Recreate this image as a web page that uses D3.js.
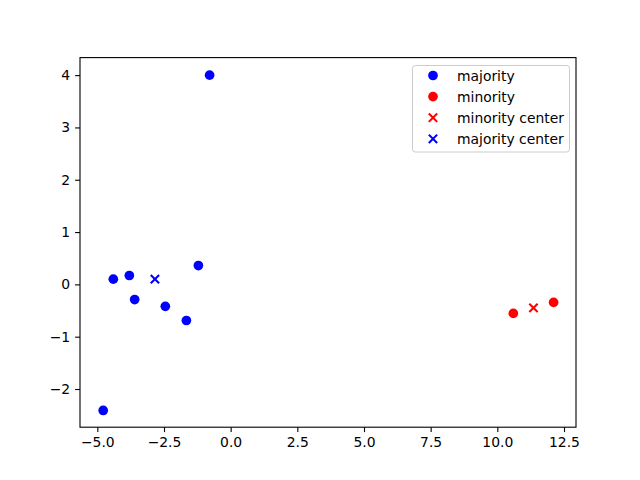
<!DOCTYPE html>
<html>
<head>
  <meta charset="utf-8">
  <style>
    body { margin: 0; background: #fff; }
    svg text { font-family: "DejaVu Sans", sans-serif; }
  </style>
</head>
<body>
  <div id="chart"></div>

  <script src="https://d3js.org/d3.v7.min.js"></script>
  <script>
    // Data
    const majorityX = [-0.79, -4.40, -3.80, -3.60, -2.45, -1.21, -1.66, -4.78];
    const majorityY = [4.00, 0.10, 0.17, -0.29, -0.42, 0.36, -0.69, -2.41];
    const minorityX = [10.60, 12.11];
    const minorityY = [-0.555, -0.344];
    const minorityCenter = [11.355, -0.45];
    const majorityCenter = [-2.84, 0.10];
    const xTicks = [-5.0, -2.5, 0.0, 2.5, 5.0, 7.5, 10.0, 12.5];
    const yTicks = [-2, -1, 0, 1, 2, 3, 4];
    const legendLabels = ["majority", "minority", "minority center", "majority center"];

    const width = 640, height = 480;
    const margin = { left: 80, right: 64, top: 57.6, bottom: 52.8 };

    const svg = d3.select("#chart")
      .append("svg")
      .attr("width", width)
      .attr("height", height);

    const x = d3.scaleLinear()
      .domain([-5.65, 12.95])
      .range([margin.left, width - margin.right]);

    const y = d3.scaleLinear()
      .domain([-2.73, 4.335])
      .range([height - margin.bottom, margin.top]);

    const r = 4.85;
    const h = 4.17;

    const majority = majorityX.map((v, i) => [v, majorityY[i]]);
    const minority = minorityX.map((v, i) => [v, minorityY[i]]);

    // points
    svg.selectAll("circle.maj")
      .data(majority)
      .enter()
      .append("circle")
      .attr("class", "maj")
      .attr("cx", d => x(d[0]))
      .attr("cy", d => y(d[1]))
      .attr("r", r)
      .attr("fill", "blue");

    svg.selectAll("circle.min")
      .data(minority)
      .enter()
      .append("circle")
      .attr("class", "min")
      .attr("cx", d => x(d[0]))
      .attr("cy", d => y(d[1]))
      .attr("r", r)
      .attr("fill", "red");

    function cross(g, cx, cy, color) {
      g.append("path")
        .attr("d", `M${cx - h},${cy - h}L${cx + h},${cy + h}M${cx - h},${cy + h}L${cx + h},${cy - h}`)
        .attr("stroke", color)
        .attr("stroke-width", 2.08)
        .attr("fill", "none");
    }

    cross(svg, x(minorityCenter[0]), y(minorityCenter[1]), "red");
    cross(svg, x(majorityCenter[0]), y(majorityCenter[1]), "blue");

    // axes
    const xAxis = svg.append("g")
      .attr("transform", `translate(0,${height - margin.bottom})`)
      .call(d3.axisBottom(x).tickValues(xTicks).tickFormat(d3.format(".1f")).tickSize(4.9).tickPadding(4.9));

    const yAxis = svg.append("g")
      .attr("transform", `translate(${margin.left},0)`)
      .call(d3.axisLeft(y).tickValues(yTicks).tickFormat(d3.format("d")).tickSize(4.9).tickPadding(4.9));

    [xAxis, yAxis].forEach(a => {
      a.select(".domain").remove();
      a.selectAll("line").attr("stroke", "#000").attr("stroke-width", 1.1);
      a.selectAll("text")
        .attr("font-size", "13.9px")
        .attr("fill", "#000")
        .style("font-family", "'DejaVu Sans', sans-serif");
    });

    // frame
    svg.append("rect")
      .attr("x", margin.left)
      .attr("y", margin.top)
      .attr("width", width - margin.left - margin.right)
      .attr("height", height - margin.top - margin.bottom)
      .attr("fill", "none")
      .attr("stroke", "#000")
      .attr("stroke-width", 1.1);

    // legend
    const lg = svg.append("g").attr("transform", "translate(412.5,65.5)");
    lg.append("rect")
      .attr("width", 157)
      .attr("height", 86.5)
      .attr("rx", 2.8)
      .attr("fill", "#fff")
      .attr("fill-opacity", 0.8)
      .attr("stroke", "#cccccc")
      .attr("stroke-width", 1);

    const legendStyle = [
      { shape: "circle", color: "blue" },
      { shape: "circle", color: "red" },
      { shape: "cross", color: "red" },
      { shape: "cross", color: "blue" }
    ];

    legendLabels.forEach((label, i) => {
      const cy = 10 + i * 21.1;
      const s = legendStyle[i];
      if (s.shape === "circle") {
        lg.append("circle").attr("cx", 20.5).attr("cy", cy).attr("r", r).attr("fill", s.color);
      } else {
        cross(lg, 20.5, cy, s.color);
      }
      lg.append("text")
        .attr("x", 44.5)
        .attr("y", cy)
        .attr("dy", "0.36em")
        .attr("font-size", "13.9px")
        .attr("fill", "#000")
        .text(label);
    });
  </script>
</body>
</html>
